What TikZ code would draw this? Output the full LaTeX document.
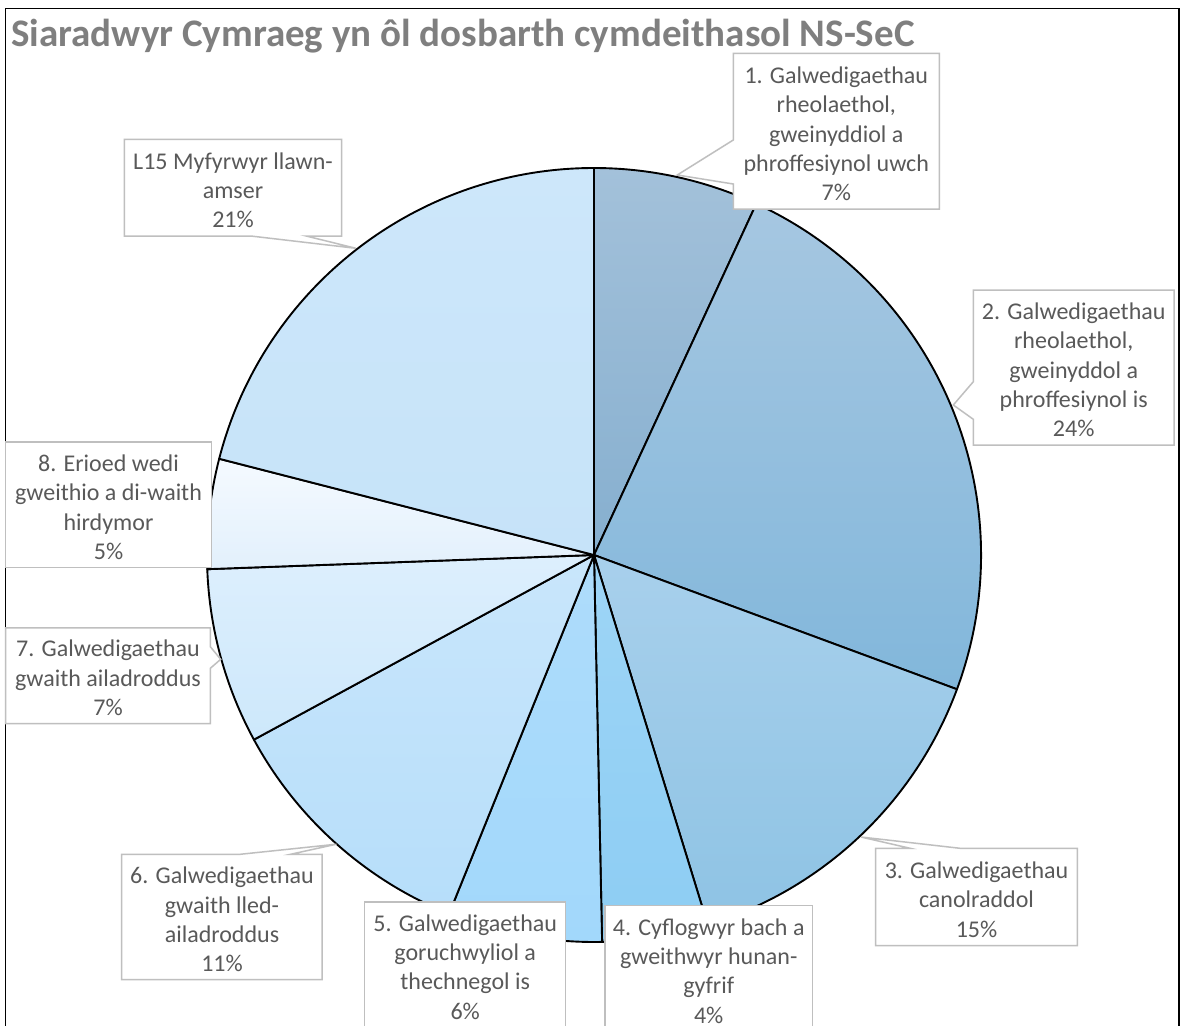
\documentclass[tikz,border=0pt]{standalone}
\usepackage{fontspec}
\setmainfont{Carlito}
\definecolor{txtgray}{HTML}{595959}
\definecolor{titlegray}{HTML}{7F7F7F}
\definecolor{boxgray}{HTML}{BFBFBF}
\definecolor{s1t}{HTML}{A3C1DA}\definecolor{s1b}{HTML}{86AFCF}
\definecolor{s2t}{HTML}{A6C7E1}\definecolor{s2b}{HTML}{82B7DB}
\definecolor{s3t}{HTML}{A8D0EC}\definecolor{s3b}{HTML}{8EC3E4}
\definecolor{s4t}{HTML}{9ED5F6}\definecolor{s4b}{HTML}{8DCDF3}
\definecolor{s5t}{HTML}{AEDCFB}\definecolor{s5b}{HTML}{A2D8FB}
\definecolor{s6t}{HTML}{C9E6FB}\definecolor{s6b}{HTML}{B6DEFA}
\definecolor{s7t}{HTML}{DDEFFD}\definecolor{s7b}{HTML}{CDE8FB}
\definecolor{s8t}{HTML}{F5FAFF}\definecolor{s8b}{HTML}{E2F0FC}
\definecolor{s9t}{HTML}{CDE7FA}\definecolor{s9b}{HTML}{C6E3F9}
\begin{document}
\begin{tikzpicture}[x=1pt,y=1pt,
  pieline/.style={draw=black, line width=1.9pt, line join=round},
  callout/.style={draw=boxgray, line width=1.5pt, fill=white, line join=miter},
  lbl/.style={text=txtgray, align=center, inner sep=0pt, font=\fontsize{24}{29.3}\selectfont}]
\useasboundingbox (0,0) rectangle (1182,-1025);
\fill[white] (0,0) rectangle (1182,-1025);
% frame
\draw[line width=1.5pt, draw=black] (5.7,-8.3) rectangle (1179,-1100);
% title
\node[anchor=base west, text=titlegray, inner sep=0pt, font=\bfseries\fontsize{39}{46}\selectfont] (title) at (11,-46) {Siaradwyr Cymraeg yn ôl dosbarth cymdeithasol NS-SeC};
% pie
\coordinate (C) at (594,-555);
\def\R{387}
\draw[pieline, top color=s1t, bottom color=s1b] (C) -- ++(90:\R) arc[start angle=90, end angle=65.2, radius=\R] -- cycle;
\draw[pieline, top color=s2t, bottom color=s2b] (C) -- ++(65.2:\R) arc[start angle=65.2, end angle=-20.3, radius=\R] -- cycle;
\draw[pieline, top color=s3t, bottom color=s3b] (C) -- ++(-20.3:\R) arc[start angle=-20.3, end angle=-72.9, radius=\R] -- cycle;
\draw[pieline, top color=s4t, bottom color=s4b] (C) -- ++(-72.9:\R) arc[start angle=-72.9, end angle=-88.8, radius=\R] -- cycle;
\draw[pieline, top color=s5t, bottom color=s5b] (C) -- ++(-88.8:\R) arc[start angle=-88.8, end angle=-112.0, radius=\R] -- cycle;
\draw[pieline, top color=s6t, bottom color=s6b] (C) -- ++(-112.0:\R) arc[start angle=-112.0, end angle=-151.5, radius=\R] -- cycle;
\draw[pieline, top color=s7t, bottom color=s7b] (C) -- ++(-151.5:\R) arc[start angle=-151.5, end angle=-177.9, radius=\R] -- cycle;
\draw[pieline, top color=s8t, bottom color=s8b] (C) -- ++(-177.9:\R) arc[start angle=-177.9, end angle=-194.4, radius=\R] -- cycle;
\draw[pieline, top color=s9t, bottom color=s9b] (C) -- ++(-194.4:\R) arc[start angle=-194.4, end angle=-270, radius=\R] -- cycle;
% callout pointer tips
\coordinate (t1) at (677.3,-175);
\coordinate (t2) at (953.3,-405);
\coordinate (t3) at (861,-837);
\coordinate (t6) at (336.4,-844.2);
\coordinate (t7) at (220.7,-659.3);
\coordinate (t9) at (355.9,-248.3);
% callouts
\draw[callout] (733.3,-53.3) -- (939.3,-53.3) -- (939.3,-209) -- (733.3,-209) -- (733.3,-184) -- (t1) -- (733.3,-140) -- cycle;
\draw[callout] (973.3,-290) -- (1174,-290) -- (1174,-445) -- (973.3,-445) -- (973.3,-419.3) -- (t2) -- (973.3,-381.7) -- cycle;
\draw[callout] (875.7,-848.3) -- (910.2,-848.3) -- (t3) -- (960.2,-848.3) -- (1077.3,-848.3) -- (1077.3,-945.7) -- (875.7,-945.7) -- cycle;
\draw[callout] (605,-905.7) rectangle (812.3,-1031);
\draw[callout] (364.7,-902) rectangle (565.6,-1027);
\draw[callout] (121.7,-854.4) -- (239,-854.4) -- (t6) -- (290,-854.4) -- (322.2,-854.4) -- (322.2,-979.5) -- (121.7,-979.5) -- cycle;
\draw[callout] (5.7,-627.8) -- (210.3,-627.8) -- (210.3,-646.7) -- (t7) -- (210.3,-668.3) -- (210.3,-723.5) -- (5.7,-723.5) -- cycle;
\draw[callout] (5.7,-442.2) rectangle (211.3,-567.3);
\draw[callout] (124.4,-139.3) -- (341.7,-139.3) -- (341.7,-236) -- (306.2,-236) -- (t9) -- (250.7,-236) -- (124.4,-236) -- cycle;
% labels
\node[lbl] (l1) at (836.3,-134) {1. Galwedigaethau\\rheolaethol,\\gweinyddiol a\\phroffesiynol uwch\\7\%};
\node[lbl] (l2) at (1073.7,-370) {2. Galwedigaethau\\rheolaethol,\\gweinyddol a\\phroffesiynol is\\24\%};
\node[lbl] (l3) at (976.5,-899.5) {3. Galwedigaethau\\canolraddol\\15\%};
\node[lbl] (l4) at (708.7,-971) {4. Cyflogwyr bach a\\gweithwyr hunan-\\gyfrif\\4\%};
\node[lbl] (l5) at (465.2,-967) {5. Galwedigaethau\\goruchwyliol a\\thechnegol is\\6\%};
\node[lbl] (l6) at (222,-919.5) {6. Galwedigaethau\\gwaith lled-\\ailadroddus\\11\%};
\node[lbl] (l7) at (108,-678) {7. Galwedigaethau\\gwaith ailadroddus\\7\%};
\node[lbl] (l8) at (108.5,-507.3) {8. Erioed wedi\\gweithio a di-waith\\hirdymor\\5\%};
\node[lbl] (l9) at (233,-190.2) {L15 Myfyrwyr llawn-\\amser\\21\%};
\end{tikzpicture}
\end{document}
